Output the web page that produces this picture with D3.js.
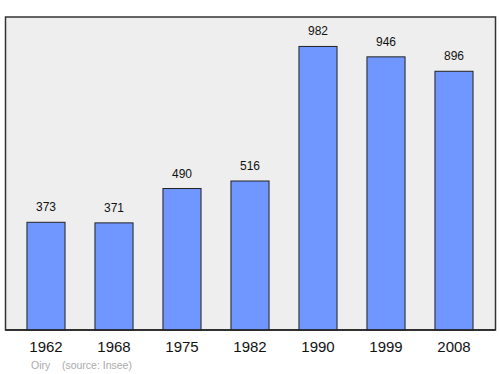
<!DOCTYPE html>
<html>
<head>
<meta charset="utf-8">
<script src="https://cdn.jsdelivr.net/npm/d3@7"></script>
<style>
  body { margin: 0; background: #fff; }
  svg { display: block; font-family: "Liberation Sans", Arial, sans-serif; }
</style>
</head>
<body>
<div id="chart"></div>
<script>
const years = ["1962", "1968", "1975", "1982", "1990", "1999", "2008"];
const population = [373, 371, 490, 516, 982, 946, 896];
const footerText = "Oiry    (source: Insee)";

const W = 500, H = 374;
const frame = { left: 5.5, top: 17, right: 495.5, bottom: 330 };

const svg = d3.select("#chart").append("svg")
  .attr("width", W)
  .attr("height", H);

svg.append("rect")
  .attr("x", frame.left)
  .attr("y", frame.top)
  .attr("width", frame.right - frame.left)
  .attr("height", frame.bottom - frame.top)
  .attr("fill", "#eeeeee")
  .attr("stroke", "#333")
  .attr("stroke-width", 1.5);

const x = d3.scaleBand()
  .domain(years)
  .range([12, 488])
  .paddingInner(0.44)
  .paddingOuter(0.22);

const y = d3.scaleLinear()
  .domain([0, 1084])
  .range([frame.bottom, frame.top]);

svg.selectAll(".bar")
  .data(population)
  .enter()
  .append("rect")
  .attr("class", "bar")
  .attr("x", (d, i) => x(years[i]))
  .attr("y", d => y(d))
  .attr("width", x.bandwidth())
  .attr("height", d => y(0) - y(d))
  .attr("fill", "#7096ff")
  .attr("stroke", "#222")
  .attr("stroke-width", 1);

svg.selectAll(".val")
  .data(population)
  .enter()
  .append("text")
  .attr("class", "val")
  .attr("x", (d, i) => x(years[i]) + x.bandwidth() / 2)
  .attr("y", d => y(d) - 11)
  .attr("text-anchor", "middle")
  .attr("font-size", 12)
  .attr("fill", "#111")
  .text(d => d);

// bottom line drawn over the bars
svg.append("line")
  .attr("x1", frame.left).attr("x2", frame.right)
  .attr("y1", frame.bottom).attr("y2", frame.bottom)
  .attr("stroke", "#222")
  .attr("stroke-width", 1.5);

svg.selectAll(".year")
  .data(years)
  .enter()
  .append("text")
  .attr("class", "year")
  .attr("x", d => x(d) + x.bandwidth() / 2)
  .attr("y", 352)
  .attr("text-anchor", "middle")
  .attr("font-size", 15)
  .attr("fill", "#111")
  .text(d => d);

svg.append("text")
  .attr("x", 31)
  .attr("y", 369)
  .attr("font-size", 10.5)
  .attr("fill", "#aaa")
  .attr("xml:space", "preserve")
  .style("white-space", "pre")
  .text(footerText);
</script>
</body>
</html>
